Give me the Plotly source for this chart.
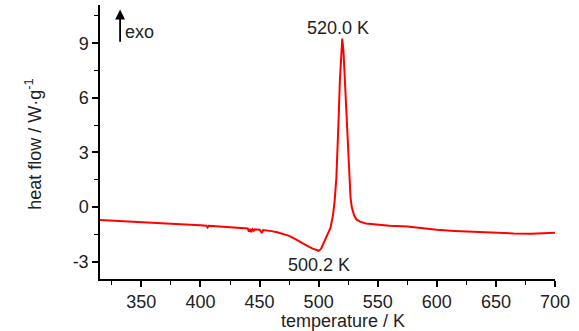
import plotly.graph_objects as go

temperature = [315, 330, 350, 375, 400, 405, 406, 407, 410, 425, 440, 441, 442, 443, 444, 445, 446,
               450, 452, 453, 455, 460, 465, 470, 475, 480, 485, 490, 495, 498, 500, 502, 504, 506,
               508, 510, 512, 513.5, 515, 516, 517, 518, 519, 520, 521, 522, 523, 524, 525, 526, 527,
               528, 530, 532, 535, 540, 550, 560, 575, 590, 600, 615, 630, 650, 665, 680, 690, 700]
heat_flow = [-0.71, -0.77, -0.84, -0.92, -1.0, -1.02, -1.12, -1.03, -1.04, -1.1, -1.17, -1.35, -1.2,
             -1.38, -1.22, -1.3, -1.22, -1.24, -1.42, -1.26, -1.27, -1.32, -1.38, -1.48, -1.58, -1.75,
             -1.95, -2.12, -2.28, -2.37, -2.4, -2.3, -2.0, -1.75, -1.45, -1.15, -0.5, 0.3, 1.6, 3.0,
             5.0, 7.0, 8.6, 9.25, 8.6, 7.2, 5.9, 4.2, 2.6, 1.4, 0.5, 0.0, -0.45, -0.68, -0.8, -0.9,
             -0.97, -1.02, -1.07, -1.18, -1.25, -1.31, -1.36, -1.41, -1.45, -1.47, -1.45, -1.41]

x_ticks = [350, 400, 450, 500, 550, 600, 650, 700]
y_ticks = [-3, 0, 3, 6, 9]
y_tick_text = ["-3", "0", "3", "6", "9"]

FONT = "Liberation Sans, Arial, sans-serif"
FS = 18
TXT = "#222222"

fig = go.Figure()
fig.add_trace(go.Scatter(x=temperature, y=heat_flow, mode="lines",
                         line=dict(color="#ff0000", width=2), showlegend=False))

fig.add_annotation(x=516, y=9.85, text="520.0 K", showarrow=False,
                   font=dict(size=FS, color=TXT, family=FONT))
fig.add_annotation(x=500, y=-3.18, text="500.2 K", showarrow=False,
                   font=dict(size=FS, color=TXT, family=FONT))
fig.add_annotation(x=332, y=10.85, ax=332, ay=9.0, axref="x", ayref="y", text="",
                   showarrow=True, arrowhead=2, arrowsize=1.1, arrowwidth=1.8, arrowcolor="black")
fig.add_annotation(x=334.5, y=9.6, text="exo", showarrow=False, xanchor="left",
                   font=dict(size=FS, color=TXT, family=FONT))
# axis titles
fig.add_annotation(xref="paper", yref="paper", x=0.534, y=-0.153, text="temperature / K",
                   xanchor="center", yanchor="middle",
                   showarrow=False, font=dict(size=FS, color=TXT, family=FONT))
fig.add_annotation(xref="paper", yref="paper", x=-0.145, y=0.49, text="heat flow / W·g<sup>-1</sup>",
                   xanchor="center", yanchor="middle",
                   textangle=-90, showarrow=False, font=dict(size=FS, color=TXT, family=FONT))

fig.update_layout(
    width=579, height=331,
    margin=dict(l=100, r=24, t=5, b=52, autoexpand=False),
    paper_bgcolor="white", plot_bgcolor="white",
    font=dict(family=FONT, size=FS, color=TXT),
    xaxis=dict(range=[315, 700], tickvals=x_ticks, showgrid=False, zeroline=False,
               automargin=False,
               showline=True, linecolor="black", linewidth=1.5,
               ticks="outside", ticklen=6, tickwidth=1.5, tickcolor="black",
               minor=dict(dtick=50, tick0=325, ticks="outside", ticklen=4, tickwidth=1.2, tickcolor="black")),
    yaxis=dict(range=[-3.95, 11.1], tickvals=y_ticks, ticktext=y_tick_text, showgrid=False,
               automargin=False,
               zeroline=False, showline=True, linecolor="black", linewidth=1.5,
               ticks="outside", ticklen=6, tickwidth=1.5, tickcolor="black",
               minor=dict(dtick=3, tick0=1.5, ticks="outside", ticklen=4, tickwidth=1.2, tickcolor="black")),
)

fig.write_html("out.html", post_script="document.body.style.margin='0';",
               config={"displayModeBar": False})
